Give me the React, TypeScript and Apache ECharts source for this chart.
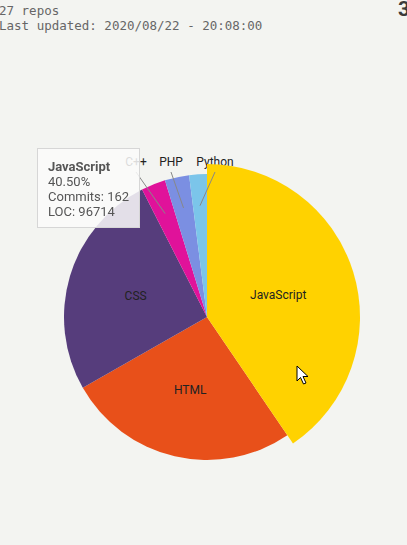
import React, { useEffect, useRef } from 'react';
import * as echarts from 'echarts';

const languages = ['JavaScript', 'HTML', 'CSS', 'C++', 'PHP', 'Python'];
const commits = [162, 105, 103, 11, 11, 8];
const linesOfCode = [96714, 52380, 47915, 4870, 4210, 2960];
const sliceColors = ['#ffd200', '#e8501a', '#563d7c', '#e0129a', '#7b8fe2', '#7bc5ea'];
const outsideLabelLanguages = ['C++', 'PHP', 'Python'];
const repoCount = 27;
const lastUpdated = '2020/08/22 - 20:08:00';
const cornerText = '3';
const highlightedIndex = 0;

const CENTER = [207, 317];
const RADIUS = 143;
const LABEL_X: Record<string, number> = { 'C++': 136, PHP: 171, Python: 215 };
const LABEL_Y = 162;
const LINE_TOP = 172;
const ANCHOR_RATIO = 0.78;

export default function App() {
  const ref = useRef<HTMLDivElement>(null);

  useEffect(() => {
    const chart = echarts.init(ref.current!, null, { renderer: 'svg' });
    const total = commits.reduce((a, b) => a + b, 0);
    const midAngles: number[] = [];
    let acc = 0;
    commits.forEach((v) => {
      midAngles.push(((acc + v / 2) / total) * Math.PI * 2);
      acc += v;
    });

    const data = languages.map((name, i) => {
      const outside = outsideLabelLanguages.includes(name);
      return {
        name,
        value: commits[i],
        loc: linesOfCode[i],
        itemStyle: { color: sliceColors[i] },
        emphasis: { itemStyle: { color: sliceColors[i] } },
        label: { position: outside ? 'outside' : 'inside' },
        labelLine: { show: false },
      };
    });

    const guideLines = languages
      .map((name, i) => ({ name, i }))
      .filter(({ name }) => outsideLabelLanguages.includes(name))
      .map(({ name, i }) => {
        const a = midAngles[i];
        const r = RADIUS * ANCHOR_RATIO;
        return {
          type: 'line',
          z: 10,
          silent: true,
          shape: {
            x1: LABEL_X[name],
            y1: LINE_TOP,
            x2: CENTER[0] + r * Math.sin(a),
            y2: CENTER[1] - r * Math.cos(a),
          },
          style: { stroke: '#888', lineWidth: 1 },
        };
      });

    chart.setOption({
      animation: false,
      tooltip: {
        trigger: 'item',
        triggerOn: 'none',
        alwaysShowContent: true,
        showDelay: 0,
        transitionDuration: 0,
        position: [37, 148],
        backgroundColor: 'rgba(250,250,250,0.86)',
        borderColor: '#d6d6d6',
        borderWidth: 1,
        padding: [10, 10, 8, 10],
        extraCssText: 'box-shadow:none;border-radius:0;',
        formatter: (p: any) => {
          const pct = ((p.value / total) * 100).toFixed(2);
          return (
            '<div style="font-family:Roboto,sans-serif;font-size:13px;line-height:15px;color:#555;">' +
            '<b>' + p.name + '</b><br/>' +
            pct + '%<br/>' +
            'Commits: ' + p.value + '<br/>' +
            'LOC: ' + p.data.loc +
            '</div>'
          );
        },
      },
      graphic: [
        ...guideLines,
        {
          type: 'polygon',
          z: 100,
          silent: true,
          shape: {
            points: [
              [297, 366], [297, 381], [300.5, 377.5], [303.5, 384], [306, 383],
              [303, 376.5], [308, 376.5],
            ],
          },
          style: { fill: '#fff', stroke: '#000', lineWidth: 1 },
        },
      ],
      series: [
        {
          type: 'pie',
          center: CENTER,
          radius: RADIUS,
          startAngle: 90,
          clockwise: true,
          avoidLabelOverlap: false,
          itemStyle: { borderWidth: 0 },
          label: { show: true, color: '#222', fontSize: 12, fontFamily: 'Roboto' },
          labelLine: { show: false },
          emphasis: { scale: true, scaleSize: 10, label: { show: true } },
          labelLayout: (p: any) => {
            const name = languages[p.dataIndex];
            if (!outsideLabelLanguages.includes(name)) return {};
            return {
              x: LABEL_X[name],
              y: LABEL_Y,
              align: 'center',
              verticalAlign: 'middle',
            };
          },
          data,
        },
      ],
    });

    chart.dispatchAction({ type: 'highlight', seriesIndex: 0, dataIndex: highlightedIndex });
    chart.dispatchAction({ type: 'showTip', seriesIndex: 0, dataIndex: highlightedIndex });

    return () => chart.dispose();
  }, []);

  return (
    <div style={{ position: 'fixed', left: 0, top: 0, width: 407, height: 545, background: '#f3f4f1', overflow: 'hidden' }}>
      <div
        style={{
          position: 'absolute', left: -1, top: 3,
          fontFamily: '"DejaVu Sans Mono", monospace', fontSize: '12.5px', lineHeight: '15px',
          color: '#666', whiteSpace: 'pre',
        }}
      >
        <div>{repoCount} repos</div>
        <div>Last updated: {lastUpdated}</div>
      </div>
      <div
        style={{
          position: 'absolute', left: 398, top: -1,
          fontFamily: 'Roboto, sans-serif', fontSize: '21px', lineHeight: '21px',
          fontWeight: 'bold', color: '#3a3a3a',
        }}
      >
        {cornerText}
      </div>
      <div ref={ref} style={{ position: 'absolute', left: 0, top: 0, width: 407, height: 545 }} />
    </div>
  );
}
